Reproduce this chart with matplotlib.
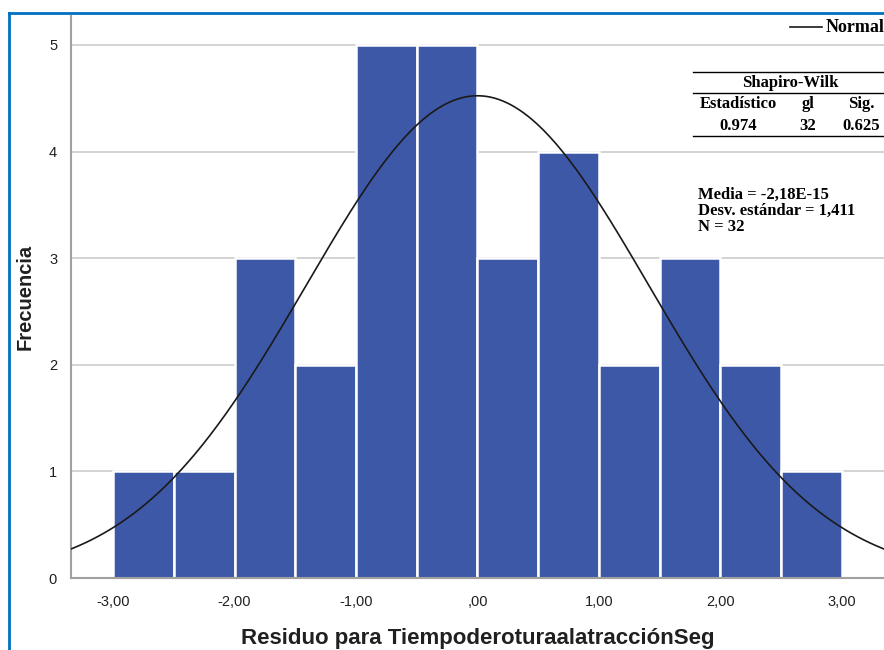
import numpy as np
import matplotlib
matplotlib.use("Agg")
import matplotlib.pyplot as plt
from matplotlib.patches import Rectangle
from matplotlib.lines import Line2D

bin_edges = [-3.0, -2.5, -2.0, -1.5, -1.0, -0.5, 0.0, 0.5, 1.0, 1.5, 2.0, 2.5, 3.0]
counts = [1, 1, 3, 2, 5, 5, 3, 4, 2, 3, 2, 1]
mean_val = -2.18e-15
sd_val = 1.411
n_val = 32
xticks = [-3, -2, -1, 0, 1, 2, 3]
xtick_labels = ["-3,00", "-2,00", "-1,00", ",00", "1,00", "2,00", "3,00"]
yticks = [0, 1, 2, 3, 4, 5]
sw_header = ["Estadístico", "gl", "Sig."]
sw_values = ["0.974", "32", "0.625"]

fig = plt.figure(figsize=(8.84, 6.5), dpi=100)
ax = fig.add_axes([71/884, 72/650, 1 - 71/884, (578-16)/650])

ax.set_xlim(-3.346, 3.346)
ax.set_ylim(0, 5.272)
for y in yticks[1:]:
    ax.axhline(y, color="#d0d0d0", lw=1.3, zorder=0)

widths = np.diff(bin_edges)
ax.bar(bin_edges[:-1], counts, width=widths, align="edge", color="#3e58a8",
       edgecolor="white", linewidth=1.8, zorder=2)

xs = np.linspace(-3.346, 3.346, 400)
pdf = n_val * 0.5 / (sd_val * np.sqrt(2 * np.pi)) * np.exp(-0.5 * ((xs - mean_val) / sd_val) ** 2)
ax.plot(xs, pdf, color="#1a1a1a", lw=1.2, zorder=3)

for s in ["top", "right"]:
    ax.spines[s].set_visible(False)
for s in ["left", "bottom"]:
    ax.spines[s].set_color("#a0a0a0")
    ax.spines[s].set_linewidth(1.5)
ax.set_xticks(xticks)
ax.set_xticklabels(xtick_labels, family="Liberation Sans", fontsize=10.5, color="#202020")
ax.set_yticks(yticks)
ax.set_yticklabels([str(v) for v in yticks], family="Liberation Sans", fontsize=10.5, color="#202020")
ax.tick_params(length=0, pad=12)
ax.tick_params(axis="y", pad=10)
ax.set_xlabel("Residuo para TiempoderoturaalatracciónSeg", family="Liberation Sans",
              fontsize=16, fontweight="bold", color="#202020", labelpad=14)
ax.set_ylabel("Frecuencia", family="Liberation Sans", fontsize=14.5, fontweight="bold",
              color="#202020", labelpad=10)

# legend
fig.add_artist(Line2D([790/884, 822/884], [1 - 27/650, 1 - 27/650], color="#1a1a1a", lw=1.2))
fig.text(826/884, 1 - 27/650, "Normal", family="Liberation Serif", fontweight="bold",
         fontsize=13, va="center", ha="left")

# Shapiro-Wilk table
fig.add_artist(Rectangle((693/884, 1 - 136/650), 191/884, 64/650, transform=fig.transFigure,
                         facecolor="white", edgecolor="none", zorder=4))
for yy in [72, 93, 136]:
    fig.add_artist(Line2D([693/884, 884/884], [1 - yy/650, 1 - yy/650], color="black", lw=1.0, zorder=5))
tk = dict(family="Liberation Serif", fontweight="bold", fontsize=12, va="center", zorder=6)
fig.text(790/884, 1 - 83/650, "Shapiro-Wilk", ha="center", **tk)
hx = [738, 808, 861]
for x, h, v in zip(hx, sw_header, sw_values):
    fig.text(x/884, 1 - 104/650, h, ha="center", **tk)
    fig.text(x/884, 1 - 126/650, v, ha="center", **tk)

fig.text(698/884, 1 - 211/650,
         "Media = -2,18E-15\nDesv. estándar = 1,411\nN = %d" % n_val,
         family="Liberation Serif", fontweight="bold", fontsize=12, va="center",
         ha="left", linespacing=1.0)

# blue frame
fig.add_artist(Line2D([9/884, 9/884], [0, 1 - 13/650], color="#0070c0", lw=2))
fig.add_artist(Line2D([9/884, 1], [1 - 13/650, 1 - 13/650], color="#0070c0", lw=2))

fig.savefig("out.png", dpi=100)
